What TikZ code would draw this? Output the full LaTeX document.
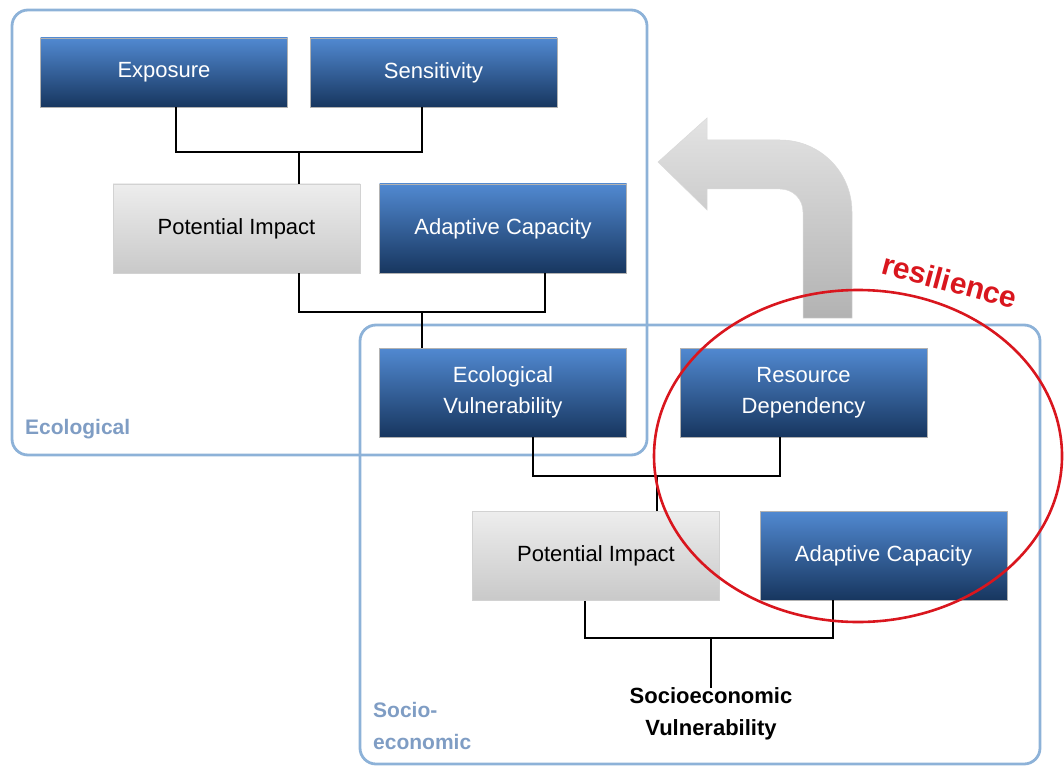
\documentclass[tikz,border=0pt]{standalone}
\usepackage{fontspec}
\setmainfont{Liberation Sans}
\begin{document}
\begin{tikzpicture}[x=1pt,y=-1pt,
  bluebox/.style={draw=gray!60,line width=0.6pt,top color=blueTop,bottom color=blueBot,text=white,
    minimum width=247pt,minimum height=69pt,align=center,inner sep=0pt,
    font=\fontsize{22}{31}\selectfont},
  graybox/.style={draw=gray!35,line width=0.6pt,top color=grayTop,bottom color=grayBot,text=black,
    minimum width=247pt,minimum height=89pt,align=center,inner sep=0pt,
    font=\fontsize{22}{31}\selectfont},
  conn/.style={draw=black,line width=2.2pt},
  region/.style={draw=regionBlue,line width=2.8pt,rounded corners=16pt},
  reglabel/.style={text=labelBlue,font=\bfseries\fontsize{21}{32}\selectfont,align=left,inner sep=0pt,anchor=west}
]
\definecolor{blueTop}{HTML}{5189D1}
\definecolor{blueBot}{HTML}{17365F}
\definecolor{grayTop}{HTML}{EDEDED}
\definecolor{grayBot}{HTML}{C9C9C9}
\definecolor{regionBlue}{HTML}{8DB2D8}
\definecolor{labelBlue}{HTML}{7F9DC4}
\definecolor{resRed}{HTML}{D9161E}
\useasboundingbox (0,0) rectangle (1064,767);

% regions
\draw[region] (12,10) rectangle (647,455);
\draw[region] (360,325) rectangle (1040,764);
\node[reglabel] (ecolab) at (25,429) {Ecological};
\node[reglabel] (soclab) at (373,726) {Socio-\\economic};

% boxes
\node[bluebox] (exp) at (164,72.5) {Exposure};
\node[bluebox] (sen) at (433.5,72.5) {Sensitivity};
\node[graybox] (pi1) at (236.5,228.5) {Potential Impact};
\node[bluebox,minimum height=89pt] (ac1) at (503,228.5) {Adaptive Capacity};
\node[bluebox,minimum height=89pt] (ev) at (503,392.5) {Ecological\\Vulnerability};
\node[bluebox,minimum height=89pt] (rd) at (803.5,392.5) {Resource\\Dependency};
\node[graybox] (pi2) at (596,556) {Potential Impact};
\node[bluebox,minimum height=89pt] (ac2) at (883.5,555.5) {Adaptive Capacity};
\node[font=\bfseries\fontsize{22}{32}\selectfont,align=center,inner sep=0pt] (sv) at (711,714) {Socioeconomic\\Vulnerability};

% connectors
\draw[conn] ([xshift=12pt]exp.south) -- ++(0,45) coordinate (j1) -| ([xshift=-11.5pt]sen.south);
\draw[conn] ([xshift=62.5pt]pi1.north) -- ([xshift=62.5pt]pi1.north |- j1);
\draw[conn] ([xshift=62.5pt]pi1.south) -- ++(0,39) coordinate (j2) -| ([xshift=42pt]ac1.south);
\draw[conn] ([xshift=-81pt]ev.north) -- ([xshift=-81pt]ev.north |- j2);
\draw[conn] ([xshift=30pt]ev.south) -- ++(0,39) coordinate (j3) -| ([xshift=-23.5pt]rd.south);
\draw[conn] ([xshift=61pt]pi2.north) -- ([xshift=61pt]pi2.north |- j3);
\draw[conn] ([xshift=-11pt]pi2.south) -- ++(0,37) coordinate (j4) -| ([xshift=-50.5pt]ac2.south);
\draw[conn] (sv.north |- j4) -- (sv.north);

% bent arrow
\path[top color=gray!22,bottom color=gray!60,draw=gray!30,line width=0.5pt]
  (658,162) -- (707,118) -- (707,140) -- (780,140)
  .. controls (820,140) and (852,172) .. (852,212)
  -- (852,318) -- (803,318) -- (803,212)
  .. controls (803,199) and (793,189) .. (780,189)
  -- (707,189) -- (707,210) -- cycle;

% resilience
\draw[resRed,line width=2.6pt] (858,456) ellipse [x radius=204, y radius=166];
\node[text=resRed,font=\bfseries\fontsize{30}{32}\selectfont,rotate=-15,inner sep=0pt] (res) at (950,281) {resilience};
\end{tikzpicture}
\end{document}
